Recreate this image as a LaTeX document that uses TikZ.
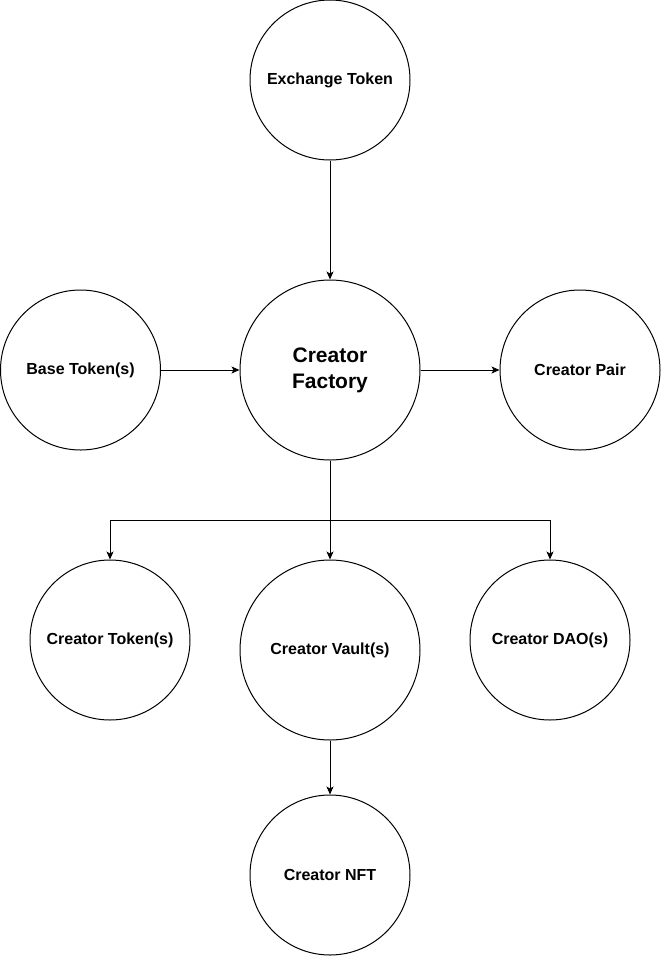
\documentclass[tikz,border=0pt]{standalone}
\usepackage{fontspec}
\setmainfont{Liberation Sans}
\usetikzlibrary{arrows.meta}
\begin{document}
\begin{tikzpicture}[x=1pt,y=-1pt,
  circ/.style={circle,draw=black,line width=1pt,fill=white,inner sep=0pt,
    font=\bfseries\fontsize{16}{19}\selectfont,align=center},
  arr/.style={-{Stealth[length=8pt,width=7pt,inset=2pt]},line width=0.9pt}]
\useasboundingbox (0,0) rectangle (661,956);
\node[circ,minimum size=160pt] (ex) at (330,80) {Exchange Token};
\node[circ,minimum size=180pt,font=\bfseries\fontsize{21}{26}\selectfont] (cf) at (330,370) {Creator\\Factory};
\node[circ,minimum size=160pt] (bt) at (80.5,370) {Base Token(s)};
\node[circ,minimum size=160pt] (cp) at (580,370) {Creator Pair};
\node[circ,minimum size=160pt] (ct) at (110,640) {Creator Token(s)};
\node[circ,minimum size=180pt] (cv) at (330,650) {Creator Vault(s)};
\node[circ,minimum size=160pt] (cd) at (550,640) {Creator DAO(s)};
\node[circ,minimum size=160pt] (cn) at (330,875) {Creator NFT};
\coordinate (j) at (330,520);
\draw[arr] (ex) -- (cf);
\draw[arr] (bt) -- (cf);
\draw[arr] (cf) -- (cp);
\draw[arr] (cf.south) -- (cv.north);
\draw[arr] (j) -| (ct.north);
\draw[arr] (j) -| (cd.north);
\draw[arr] (cv) -- (cn);
\end{tikzpicture}
\end{document}
